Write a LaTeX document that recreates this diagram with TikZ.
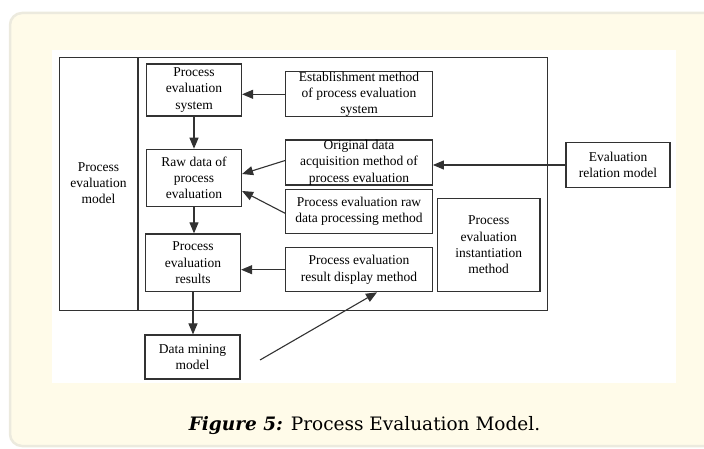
\documentclass[tikz,border=0pt]{standalone}
\usepackage{fontspec}
\setmainfont{Liberation Serif}
\newfontfamily\capfont{DejaVu Serif}
\usetikzlibrary{arrows.meta}
\definecolor{panelfill}{RGB}{255,251,233}
\definecolor{paneledge}{RGB}{236,234,222}
\definecolor{boxline}{RGB}{50,50,50}

\begin{document}
\begin{tikzpicture}[x=1pt,y=-1pt,
  every node/.style={font=\fontsize{13.5pt}{16.3pt}\selectfont, align=center, inner sep=0pt},
  blk/.style={draw=boxline, line width=1.2pt, minimum width=95pt},
  meth/.style={draw=boxline, line width=1.2pt, minimum width=146.6pt},
  link/.style={-{Triangle[length=11pt,width=9pt]}, draw=boxline, line width=1.1pt}]
\clip (0,0) rectangle (704,449);
\useasboundingbox (0,0) rectangle (704,449);
% panel and figure area
\draw[paneledge, line width=2.5pt, fill=panelfill, rounded corners=12pt] (10,13) rectangle (760,446);
\fill[white] (52,50) rectangle (675.5,383);
\draw[boxline, line width=1.2pt] (59.3,57.5) rectangle (547.5,310.7);
\draw[boxline, line width=1.2pt] (138,57.5) -- (138,310.7);
\node (model) at (98.5,183) {Process\\evaluation\\model};
% left column
\node[blk, minimum height=52pt] (sys) at (194,90) {Process\\evaluation\\system};
\node[blk, minimum height=57.4pt] (raw) at (194,178) {Raw data of\\process\\evaluation};
\node[blk, minimum height=57.7pt] (res) at (193,262.8) {Process\\evaluation\\results};
\node[blk, minimum height=44pt] (dm) at (192.5,357) {Data mining\\model};
% methods
\node[meth, minimum height=43.3pt] (est) at (359,94.3) {Establishment method\\of process evaluation\\system};
\node[meth, minimum height=45pt] (acq) at (359,162.5) {Original data\\acquisition method of\\process evaluation};
\node[meth, minimum height=44pt] (proc) at (359,211.3) {Process evaluation raw\\data processing method};
\node[meth, minimum height=44pt] (disp) at (359,269.7) {Process evaluation\\result display method};
\node[draw=boxline, line width=1.2pt, minimum width=102.7pt, minimum height=93.4pt] (inst) at (488.7,245) {Process\\evaluation\\instantiation\\method};
\node[draw=boxline, line width=1.2pt, minimum width=104pt, minimum height=44.6pt] (rel) at (618,165) {Evaluation\\relation model};
\coordinate (dmtail) at (260,360);
% arrows
\draw[link] (est.west) -- (sys.east |- est.west);
\draw[link] (sys.south) -- (raw.north);
\draw[link] ([yshift=2pt]acq.west) -- ([yshift=4pt]raw.east);
\draw[link] ([yshift=-2pt]proc.west) -- ([yshift=-13pt]raw.east);
\draw[link] (raw.south) -- (res.north -| raw.south);
\draw[link] (disp.west) -- (res.east |- disp.west);
\draw[link] (rel.west) -- (acq.east |- rel.west);
\draw[link] (res.south) -- (dm.north -| res.south);
\draw[link] (dmtail) -- ([xshift=18pt]disp.south);
% caption
\node[anchor=base, font=\capfont\fontsize{18.5pt}{22pt}\selectfont] (cap) at (364.5,430) {\textbf{\textit{Figure 5:}} Process Evaluation Model.};
\end{tikzpicture}
\end{document}
